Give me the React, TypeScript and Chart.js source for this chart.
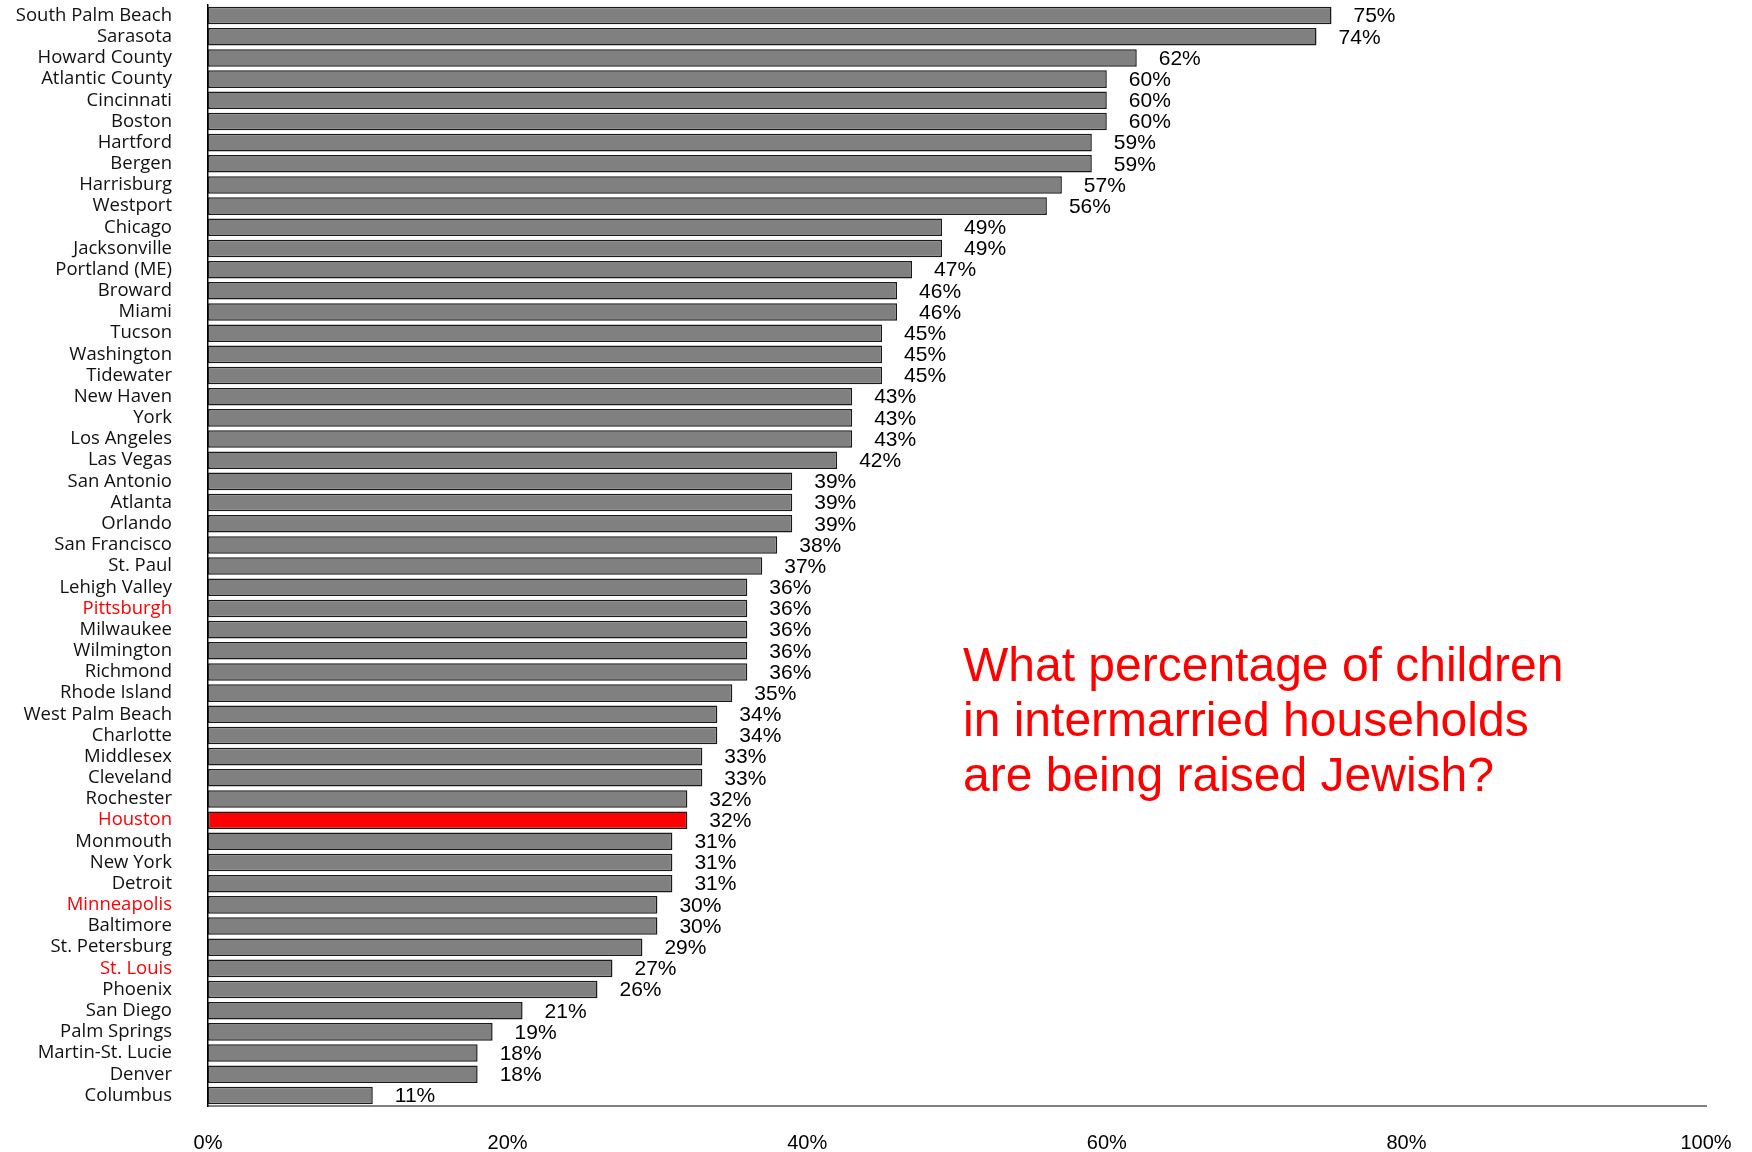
import React, { useEffect, useRef } from 'react';
import { Chart, registerables } from 'chart.js';

Chart.register(...registerables);

const categories: string[] = [
  'South Palm Beach', 'Sarasota', 'Howard County', 'Atlantic County', 'Cincinnati',
  'Boston', 'Hartford', 'Bergen', 'Harrisburg', 'Westport',
  'Chicago', 'Jacksonville', 'Portland (ME)', 'Broward', 'Miami',
  'Tucson', 'Washington', 'Tidewater', 'New Haven', 'York',
  'Los Angeles', 'Las Vegas', 'San Antonio', 'Atlanta', 'Orlando',
  'San Francisco', 'St. Paul', 'Lehigh Valley', 'Pittsburgh', 'Milwaukee',
  'Wilmington', 'Richmond', 'Rhode Island', 'West Palm Beach', 'Charlotte',
  'Middlesex', 'Cleveland', 'Rochester', 'Houston', 'Monmouth',
  'New York', 'Detroit', 'Minneapolis', 'Baltimore', 'St. Petersburg',
  'St. Louis', 'Phoenix', 'San Diego', 'Palm Springs', 'Martin-St. Lucie',
  'Denver', 'Columbus',
];

const values: number[] = [
  75, 74, 62, 60, 60, 60, 59, 59, 57, 56,
  49, 49, 47, 46, 46, 45, 45, 45, 43, 43,
  43, 42, 39, 39, 39, 38, 37, 36, 36, 36,
  36, 36, 35, 34, 34, 33, 33, 32, 32, 31,
  31, 31, 30, 30, 29, 27, 26, 21, 19, 18,
  18, 11,
];

const redLabels: string[] = ['Pittsburgh', 'Houston', 'Minneapolis', 'St. Louis'];
const redBars: string[] = ['Houston'];

const xTickValues: number[] = [0, 20, 40, 60, 80, 100];

const annotationLines: string[] = [
  'What percentage of children',
  'in intermarried households',
  'are being raised Jewish?',
];

const GRAY = '#808080';
const RED = '#ff0000';

export default function App() {
  const canvasRef = useRef<HTMLCanvasElement | null>(null);

  useEffect(() => {
    document.body.style.margin = '0';
    const canvas = canvasRef.current;
    if (!canvas) return;

    const valueLabels = {
      id: 'valueLabels',
      afterDatasetsDraw(chart: any) {
        const ctx = chart.ctx;
        const meta = chart.getDatasetMeta(0);
        ctx.save();
        ctx.font = '21px "Liberation Sans", Arial, sans-serif';
        ctx.fillStyle = '#000';
        ctx.textAlign = 'left';
        ctx.textBaseline = 'middle';
        meta.data.forEach((bar: any, i: number) => {
          ctx.fillText(values[i] + '%', bar.x + 22, bar.y + 1);
        });
        ctx.restore();
      },
    };

    const annotation = {
      id: 'annotation',
      afterDraw(chart: any) {
        const ctx = chart.ctx;
        const xs = chart.scales.x;
        ctx.save();
        ctx.font = '48px "Liberation Sans", Arial, sans-serif';
        ctx.fillStyle = RED;
        ctx.textAlign = 'left';
        ctx.textBaseline = 'middle';
        const x0 = xs.getPixelForValue(50.4);
        annotationLines.forEach((line, i) => {
          ctx.fillText(line, x0, 668 + i * 55);
        });
        ctx.restore();
      },
    };

    const chart = new Chart(canvas, {
      type: 'bar',
      data: {
        labels: categories,
        datasets: [
          {
            data: values,
            backgroundColor: categories.map((c) => (redBars.includes(c) ? RED : GRAY)),
            borderColor: '#1a1a1a',
            borderWidth: 1.5,
            borderSkipped: false,
            barPercentage: 0.83,
            categoryPercentage: 1,
          },
        ],
      },
      options: {
        indexAxis: 'y',
        responsive: false,
        animation: false,
        devicePixelRatio: 1,
        layout: { padding: { top: 5, right: 46, left: 0, bottom: 0 } },
        plugins: {
          legend: { display: false },
          tooltip: { enabled: false },
        },
        scales: {
          x: {
            type: 'linear',
            min: 0,
            max: 100,
            afterFit: (scale: any) => {
              scale.height = 46;
              scale.paddingLeft = 0;
              scale.paddingRight = 0;
            },
            afterBuildTicks: (scale: any) => {
              scale.ticks = xTickValues.map((v) => ({ value: v }));
            },
            grid: { display: false, drawTicks: false },
            border: { display: true, color: GRAY, width: 2 },
            ticks: {
              autoSkip: false,
              maxRotation: 0,
              padding: 25,
              color: '#000',
              font: { family: '"Liberation Sans", Arial, sans-serif', size: 20 },
              callback: (v: any) => v + '%',
            },
          },
          y: {
            type: 'category',
            afterFit: (scale: any) => {
              scale.width = 208;
              scale.paddingTop = 0;
              scale.paddingBottom = 0;
            },
            grid: { display: false, drawTicks: false },
            border: { display: true, color: '#000', width: 1.5 },
            ticks: {
              autoSkip: false,
              padding: 36,
              color: (ctx: any) => (redLabels.includes(categories[ctx.index]) ? RED : '#111'),
              font: { family: '"Open Sans", Lato, sans-serif', size: 18.5 },
            },
          },
        },
      },
      plugins: [valueLabels, annotation],
    });

    return () => {
      chart.destroy();
    };
  }, []);

  return (
    <div style={{ width: 1752, height: 1152, background: '#fff' }}>
      <canvas ref={canvasRef} width={1752} height={1152} style={{ display: 'block' }} />
    </div>
  );
}
